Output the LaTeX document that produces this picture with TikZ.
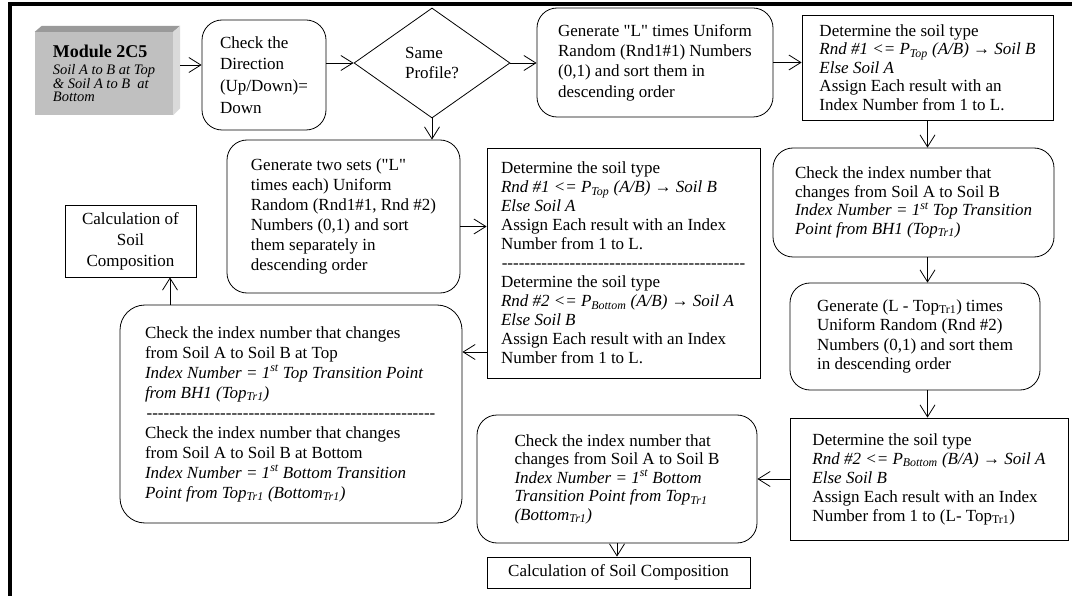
\documentclass[tikz,border=0pt]{standalone}
\usepackage{fontspec}
\setmainfont{Liberation Serif}[Ligatures=TeXOff]
\usetikzlibrary{arrows.meta,shapes.geometric}
\definecolor{modfront}{HTML}{C0C0C0}
\definecolor{modtop}{HTML}{9A9A9A}
\definecolor{modside}{HTML}{DADADA}
\newcommand{\hyphline}[1]{\leavevmode\hbox to #1{\cleaders\hbox{-}\hfill}}
\begin{document}
\begin{tikzpicture}[x=1pt,y=-1pt,
  every node/.style={font=\fontsize{17}{19.5}\selectfont},
  box/.style={draw, line width=0.8pt, align=left, inner sep=0pt},
  rbox/.style={box, rounded corners=20pt},
  arr/.style={line width=0.8pt, -{Straight Barb[length=12pt,width=15pt,line width=0.8pt]}},
]
\useasboundingbox (0,0) rectangle (1072,596);
\fill[white] (0,0) rectangle (1072,596);
\draw[line width=3.5pt] (10,596) -- (10,4) -- (1072,4);

% module box (3D)
\node[fill=modfront, minimum width=138pt, minimum height=83pt, inner sep=0pt, align=left,
      font=\fontsize{14.5}{12.8}\selectfont] (mod) at (104,73.5)
  {{\fontsize{18}{18}\selectfont\bfseries Module 2C5}\\[4pt]\itshape Soil A to B at Top\\\itshape \& Soil A to B\ \ at\\\itshape Bottom\hspace*{40pt}};
\fill[modtop] (mod.north west) -- ++(7,-6) -- ([xshift=7pt,yshift=6pt]mod.north east) -- (mod.north east) -- cycle;
\fill[modside] (mod.north east) -- ++(7,-6) -- ([xshift=7pt,yshift=7pt]mod.south east) -- (mod.south east) -- cycle;

\node[rbox, minimum width=124pt, minimum height=110pt, font=\fontsize{17}{21.7}\selectfont] (dir) at (264,75)
  {Check the\\Direction\\(Up/Down)=\\Down};

\node[draw, diamond, line width=0.8pt, minimum width=156pt, minimum height=110pt, inner sep=0pt,
      aspect=1.418, align=left] (same) at (432,63) {Same\\Profile?};

\node[rbox, minimum width=236pt, minimum height=109pt, font=\fontsize{17}{20.3}\selectfont] (genL) at (655,62.5)
  {Generate "L" times Uniform\\Random (Rnd1\#1) Numbers\\(0,1) and sort them in\\descending order};

\node[box, minimum width=251pt, minimum height=105pt, font=\fontsize{17}{18.5}\selectfont] (det1) at (927.5,67.5)
  {Determine the soil type\\\textit{Rnd \#1 <= P\textsubscript{Top} (A/B) → Soil B}\\\textit{Else Soil A}\\Assign Each result with an\\Index Number from 1 to L.};

\node[rbox, minimum width=281pt, minimum height=109pt, font=\fontsize{17}{18.5}\selectfont] (chk1) at (913.5,202.5)
  {Check the index number that\\changes from Soil A to Soil B\\\textit{Index Number = 1\textsuperscript{st} Top Transition}\\\textit{Point from BH1 (Top\textsubscript{Tr1})}};

\node[rbox, minimum width=250pt, minimum height=107pt, font=\fontsize{17}{19.5}\selectfont] (genLT) at (915,336.5)
  {Generate (L - Top\textsubscript{Tr1}) times\\Uniform Random (Rnd \#2)\\Numbers (0,1) and sort them\\in descending order};

\node[box, minimum width=278pt, minimum height=122pt, font=\fontsize{17}{19}\selectfont] (det3) at (929,479)
  {Determine the soil type\\\textit{Rnd \#2 <= P\textsubscript{Bottom} (B/A) → Soil A}\\\textit{Else Soil B}\\Assign Each result with an Index\\Number from 1 to (L- Top\textsubscript{Tr1})};

\node[rbox, minimum width=280pt, minimum height=128pt, font=\fontsize{17}{18.5}\selectfont] (chk2) at (617,479)
  {Check the index number that\\changes from Soil A to Soil B\\\textit{Index Number = 1\textsuperscript{st} Bottom}\\\textit{Transition Point from Top\textsubscript{Tr1}}\\\textit{(Bottom\textsubscript{Tr1})}};

\node[box, minimum width=263pt, minimum height=31pt] (calc2) at (618.5,572.5) {Calculation of Soil Composition};

\node[rbox, minimum width=233pt, minimum height=153pt, font=\fontsize{17}{20}\selectfont] (gen2) at (343.5,216.5)
  {Generate two sets ("L"\\times each) Uniform\\Random (Rnd1\#1, Rnd \#2)\\Numbers (0,1) and sort\\them separately in\\descending order};

\node[box, minimum width=273pt, minimum height=230pt, font=\fontsize{17}{19}\selectfont] (det2) at (623.5,263)
  {Determine the soil type\\\textit{Rnd \#1 <= P\textsubscript{Top} (A/B) → Soil B}\\\textit{Else Soil A}\\Assign Each result with an Index\\Number from 1 to L.\\\hyphline{245pt}\\Determine the soil type\\\textit{Rnd \#2 <= P\textsubscript{Bottom} (A/B) → Soil A}\\\textit{Else Soil B}\\Assign Each result with an Index\\Number from 1 to L.};

\node[rbox, rounded corners=25pt, minimum width=342pt, minimum height=218pt, font=\fontsize{17}{20}\selectfont] (chk3) at (291,414)
  {Check the index number that changes\\from Soil A to Soil B at Top\\\textit{Index Number = 1\textsuperscript{st} Top Transition Point}\\\textit{from BH1 (Top\textsubscript{Tr1})}\\\hyphline{292pt}\\Check the index number that changes\\from Soil A to Soil B at Bottom\\\textit{Index Number = 1\textsuperscript{st} Bottom Transition}\\\textit{Point from Top\textsubscript{Tr1} (Bottom\textsubscript{Tr1})}};

\node[box, align=center, minimum width=131pt, minimum height=72pt, font=\fontsize{17}{21}\selectfont] (calc1) at (130.5,241)
  {Calculation of\\Soil\\Composition};

% connectors
\draw[arr] ([xshift=7pt,yshift=8.5pt]mod.east) -- ([yshift=10pt]dir.west);
\draw[arr] (dir.east |- same.west) -- (same.west);
\draw[arr] (same.east) -- (same.east -| genL.west);
\draw[arr] (genL.east) -- (genL.east -| det1.west);
\draw[arr] (det1.south) -- (det1.south |- chk1.north);
\draw[arr] (det1.south |- chk1.south) -- (det1.south |- genLT.north);
\draw[arr] (det1.south |- genLT.south) -- (det1.south |- det3.north);
\draw[arr] (det3.west) -- (det3.west -| chk2.east);
\draw[arr] (chk2.south) -- (chk2.south |- calc2.north);
\draw[arr] (same.south) -- (same.south |- gen2.north);
\draw[arr] ([yshift=-10pt]gen2.east) -- ([yshift=-10pt]gen2.east -| det2.west);
\draw[arr] ([yshift=-89pt]det2.west) -- ([yshift=-89pt]det2.west -| chk3.east);
\draw[arr] ([xshift=39.5pt]calc1.south |- chk3.north) -- ([xshift=39.5pt]calc1.south);
\end{tikzpicture}
\end{document}
